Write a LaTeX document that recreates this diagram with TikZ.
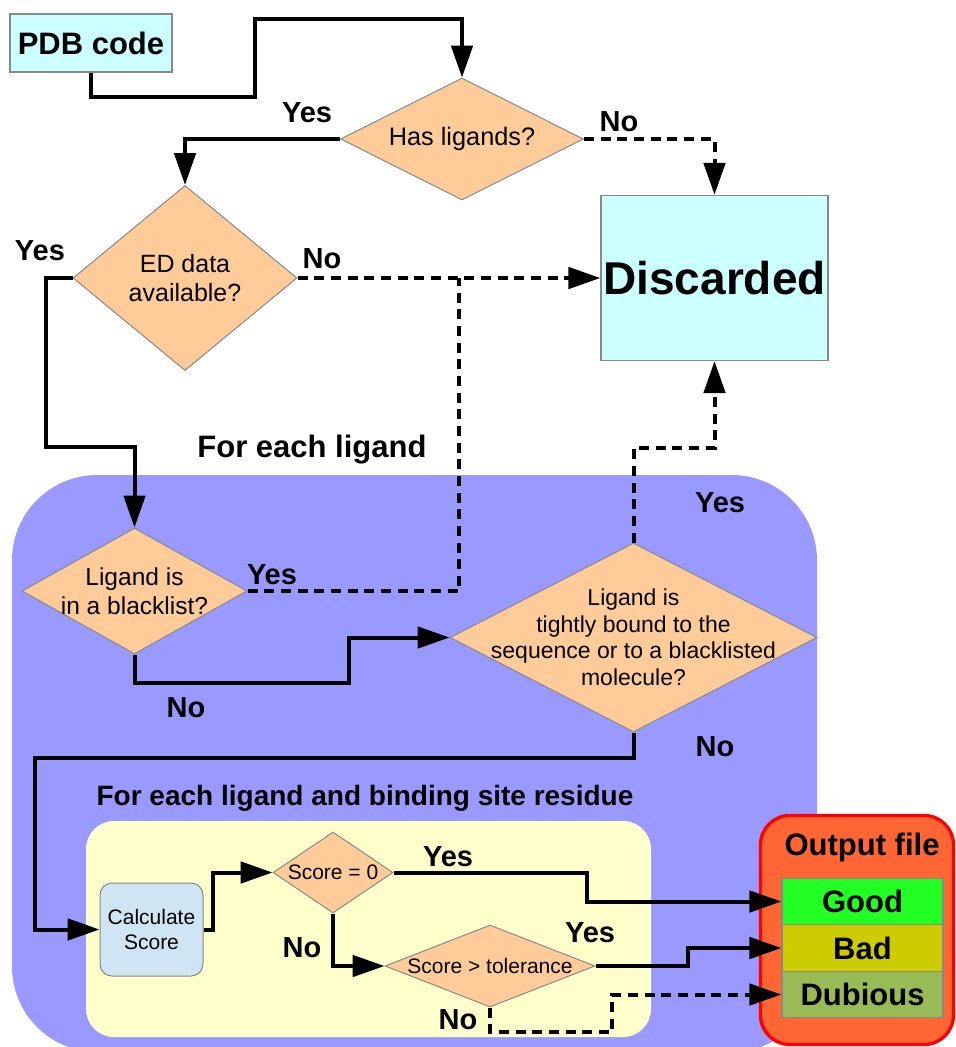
\documentclass[tikz,border=0pt]{standalone}
\usepackage{fontspec}
\setmainfont{Liberation Sans}
\usetikzlibrary{shapes.geometric,arrows.meta}
\newlength\px \setlength\px{0.75pt}
\newcommand\fsz[2]{\fontsize{#1}{#2}\selectfont}
\definecolor{cyanbox}{HTML}{CCFFFF}
\definecolor{peach}{HTML}{FFCC99}
\definecolor{lavender}{HTML}{9999FF}
\definecolor{cream}{HTML}{FFFFCC}
\definecolor{calcblue}{HTML}{CFE5F3}
\definecolor{outorange}{HTML}{FF6633}
\definecolor{goodgreen}{HTML}{22FF22}
\definecolor{badolive}{HTML}{CCCC00}
\definecolor{dubgreen}{HTML}{99BB55}
\definecolor{edgegray}{HTML}{888888}
\begin{document}
\begin{tikzpicture}[x=0.75pt,y=-0.75pt,
  dia/.style={diamond, draw=edgegray, line width=0.75pt, fill=peach, inner sep=0pt, aspect=1},
  rectbox/.style={rectangle, draw=edgegray, line width=1pt, fill=cyanbox, inner sep=0pt},
  cell/.style={rectangle, draw=edgegray, line width=1pt, inner sep=0pt, minimum width=161\px, minimum height=46.5\px, font=\fsz{23.25pt}{28pt}\bfseries},
  conn/.style={line width=3pt, -{Triangle[length=24pt,width=16pt]}},
  dline/.style={line width=3pt, dash pattern=on 7.5pt off 5pt},
  dconn/.style={dline, -{Triangle[length=24pt,width=16pt]}},
  lab/.style={font=\fsz{21.75pt}{26pt}\bfseries, inner sep=0pt},
  title/.style={font=\fsz{23.25pt}{28pt}\bfseries, inner sep=0pt}
]
\useasboundingbox (0,0) rectangle (956,1047);
\begin{scope}
  \clip (0,0) rectangle (956,1047);
  \fill[lavender, rounded corners=64pt] (12,475) rectangle (817,1052);
\end{scope}
\fill[cream, rounded corners=21pt] (86,821) rectangle (651,1037);

% nodes
\node[rectbox, minimum width=162\px, minimum height=58\px, font=\fsz{23.25pt}{28pt}\bfseries] (pdb) at (91,43) {PDB code};
\node[dia, minimum width=243\px, minimum height=122\px, label={[font=\fsz{19pt}{22pt}]center:Has ligands?}] (hl) at (462,139) {};
\node[rectbox, minimum width=227\px, minimum height=165\px, font=\fsz{34.5pt}{40pt}\bfseries] (disc) at (714.5,278) {Discarded};
\node[dia, minimum width=224\px, minimum height=185\px, label={[font=\fsz{18.75pt}{21.75pt},align=center]center:{ED data\\available?}}] (ed) at (185,278) {};
\node[dia, minimum width=225\px, minimum height=126\px, label={[font=\fsz{18.4pt}{21.75pt},align=center]center:{Ligand is\\in a blacklist?}}] (bl) at (134.5,591) {};
\node[dia, minimum width=367\px, minimum height=189\px, label={[font=\fsz{17.25pt}{19.9pt},align=center]center:{Ligand is\\tightly bound to the\\sequence or to a blacklisted\\molecule?}}] (tb) at (633.5,637.5) {};
\node[rectangle, rounded corners=9pt, draw=edgegray, line width=0.75pt, fill=calcblue, minimum width=103\px, minimum height=93\px, inner sep=0pt, align=center, font=\fsz{15.75pt}{18.75pt}] (calc) at (151.5,929.5) {Calculate\\Score};
\node[dia, minimum width=120\px, minimum height=81\px, label={[font=\fsz{15.75pt}{18pt}]center:Score = 0}] (s0) at (333,872.5) {};
\node[dia, minimum width=210\px, minimum height=82\px, label={[font=\fsz{15.75pt}{18pt}]center:Score > tolerance}] (st) at (490,966) {};

\node[draw=red, line width=2.5pt, fill=outorange, rounded corners=22pt, minimum width=193\px, minimum height=229\px, inner sep=0pt] (out) at (857,930) {};
\node[title] (outt) at (862,847) {Output file};
\node[cell, fill=goodgreen] (good) at (862.5,901.5) {Good};
\node[cell, fill=badolive] (bad) at (862.5,948) {Bad};
\node[cell, fill=dubgreen] (dub) at (862.5,994.5) {Dubious};

% labels
\node[lab] (y1) at (307,113) {Yes};
\node[lab] (n1) at (619,122) {No};
\node[lab] (y2) at (40,251) {Yes};
\node[lab] (n2) at (322,259) {No};
\node[title] (t1) at (312,450) {For each ligand};
\node[lab] (y3) at (272,575) {Yes};
\node[lab] (n3) at (186,708) {No};
\node[lab] (y4) at (720,503) {Yes};
\node[lab] (n4) at (715,747) {No};
\node[font=\fsz{21pt}{25pt}\bfseries, inner sep=0pt] (t2) at (365,798) {For each ligand and binding site residue};
\node[lab] (y5) at (448,857) {Yes};
\node[lab] (n5) at (302,948) {No};
\node[lab] (y6) at (590,933) {Yes};
\node[lab] (n6) at (458,1020) {No};

% connectors
\draw[conn] (pdb.south) -- (91,97) -- (255,97) -- (255,19) -- (462,19) -- (hl.north);
\draw[conn] (hl.west) -| (ed.north);
\draw[dconn] (hl.east) -| (disc.north);
\draw[conn] (ed.west) -- (46,278) -- (46,447) -| (bl.north);
\draw[dconn] (ed.east) -- (disc.west);
\coordinate (j1) at (459,278);
\draw[dline] (bl.east) -| (j1);
\draw[conn] (bl.south) -- (134.5,683) -- (349,683) |- (tb.west);
\draw[dconn] (tb.north) -- (633.5,448) -| (disc.south);
\draw[conn] (tb.south) -- (633.5,758) -- (35,758) |- (calc.west);
\draw[conn] (calc.east) -- (213,929.5) |- (s0.west);
\draw[conn] (s0.south) |- (st.west);
\draw[conn] (s0.east) -- (587,872.5) |- (good.west);
\draw[conn] (st.east) -- (688,966) |- (bad.west);
\draw[dconn] (st.south) -- (490,1032) -- (612,1032) |- (dub.west);
\end{tikzpicture}
\end{document}
